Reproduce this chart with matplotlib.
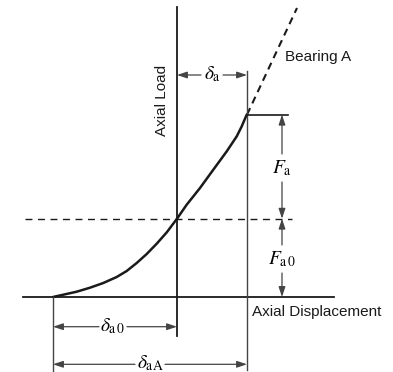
import numpy as np
import matplotlib.pyplot as plt

plt.rcParams['mathtext.fontset'] = 'stix'
plt.rcParams['font.family'] = ['Liberation Sans Narrow', 'Liberation Sans', 'DejaVu Sans']

# load-displacement curve of the preloaded bearing
curve_disp = [0, 10.3, 23.7, 37, 50.3, 63.7, 73.7, 83.7, 93.7, 103.7, 113.7,
              124, 133.7, 147, 160.3, 173.7, 183.7, 188.7, 193.7]
curve_load = [0, 2.3, 5.3, 9.3, 14, 20, 26, 34, 43, 53.3, 64.6,
              78.3, 92.3, 109, 127.3, 145.6, 160.6, 170.6, 182.3]
ext_disp = [194, 244]        # dashed extension ("Bearing A")
ext_load = [182.3, 289]

delta_a0 = 124      # preload displacement
delta_aA = 194      # total displacement of bearing A
F_a0 = 78.3         # preload
F_aA = 182.3        # preload + axial load
dim_x = 229         # x of the vertical dimension arrows

fig = plt.figure(figsize=(3.93, 3.72), dpi=100)
ax = fig.add_axes([0, 0, 1, 1])
ax.set_xlim(-53, 340)
ax.set_ylim(-75, 297)
ax.axis('off')

dark = '#1a1a1a'
grey = '#444444'

# axes
ax.plot([-30, 281], [0, 0], color=dark, lw=1.3)
ax.plot([delta_a0, delta_a0], [-39, 290], color=dark, lw=1.3)

# curve + extension
ax.plot(curve_disp, curve_load, color=dark, lw=1.8, solid_capstyle='round',
        solid_joinstyle='round')
ax.plot(ext_disp, ext_load, color=dark, lw=1.5, ls=(0, (3.5, 2.5)))

# preload dashed line
ax.plot([-28, 238.7], [F_a0, F_a0], color=dark, lw=1.0, ls=(0, (5, 4)))

# extension lines
ax.plot([delta_aA, delta_aA], [-73, 226], color=grey, lw=1.0)
ax.plot([0, 0], [0, -75], color=grey, lw=1.0)
ax.plot([delta_aA, 235], [F_aA, F_aA], color=dark, lw=1.2)

arr = dict(arrowstyle='-|>,head_length=0.6,head_width=0.2', color=grey,
           lw=0.9, mutation_scale=10, shrinkA=0, shrinkB=0)


def dim(p0, p1, mid, gap):
    # two arrows pointing from label outwards
    x0, y0 = p0
    x1, y1 = p1
    mx, my = mid
    if x0 == x1:
        ax.annotate('', xy=(x0, y0), xytext=(mx, my - gap), arrowprops=arr)
        ax.annotate('', xy=(x1, y1), xytext=(mx, my + gap), arrowprops=arr)
    else:
        ax.annotate('', xy=(x0, y0), xytext=(mx - gap, my), arrowprops=arr)
        ax.annotate('', xy=(x1, y1), xytext=(mx + gap, my), arrowprops=arr)


mfont = dict(fontsize=14, ha='center', va='center')

# delta_a
dim((delta_a0, 222), (delta_aA, 222), (159, 222), 11)
ax.text(159, 223, r'$\delta_{\rm a}$', **mfont)
# delta_a0
dim((0, -29.7), (delta_a0, -29.7), (60, -29.7), 14)
ax.text(60, -28.7, r'$\delta_{\rm a\,0}$', **mfont)
# delta_aA
dim((0, -67.3), (delta_aA, -67.3), (97, -67.3), 15)
ax.text(97, -66.3, r'$\delta_{\rm aA}$', **mfont)
# F_a
dim((dim_x, F_a0), (dim_x, F_aA), (dim_x, 129), 14)
ax.text(dim_x, 129, r'$F_{\rm a}$', **mfont)
# F_a0
dim((dim_x, 0), (dim_x, F_a0), (dim_x, 38), 14)
ax.text(dim_x, 38, r'$F_{\rm a\,0}$', **mfont)

tfont = dict(fontsize=11, color=dark)
ax.text(109, 197, 'Axial Load', rotation=90, ha='center', va='center', **tfont)
ax.text(232, 240, 'Bearing A', ha='left', va='center', **tfont)
ax.text(199, -15, 'Axial Displacement', ha='left', va='center', **tfont)

plt.savefig('out.png', dpi=100)
